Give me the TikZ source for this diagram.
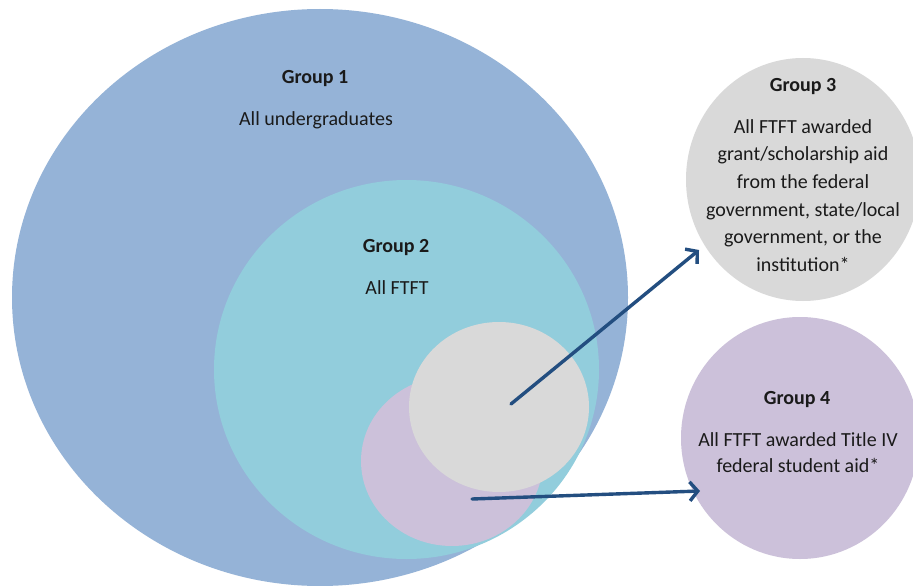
\documentclass[tikz,border=0pt]{standalone}
\usepackage{fontspec}
\setmainfont{Carlito}
\usetikzlibrary{shapes.geometric,arrows.meta}
\definecolor{gone}{HTML}{95B3D7}
\definecolor{gtwo}{HTML}{92CDDC}
\definecolor{ggray}{HTML}{D9D9D9}
\definecolor{gpurple}{HTML}{CCC1DA}
\definecolor{arrowblue}{RGB}{35,78,128}
\definecolor{txt}{HTML}{1A1A1A}
\begin{document}
\begin{tikzpicture}[x=1pt,y=-1pt,
  blob/.style={ellipse, inner sep=0pt, draw=none},
  lbl/.style={anchor=base, inner sep=0pt, font=\fontsize{20}{24}\selectfont, text=txt},
  hd/.style={lbl, font=\fontsize{20}{24}\selectfont\bfseries},
  arr/.style={draw=arrowblue, line width=3.4pt, line cap=round, -{Straight Barb[length=8pt,width=19pt]}}]
\useasboundingbox (0,0) rectangle (913,586);
\clip (0,0) rectangle (913,586);
\fill[white] (0,0) rectangle (913,586);
% circles
\node[blob, fill=gone, minimum width=616pt, minimum height=577pt] (g1) at (320,297.5) {};
\node[blob, fill=gtwo, minimum width=385pt, minimum height=379pt] (g2) at (406.5,369.5) {};
\node[blob, fill=gpurple, minimum width=182pt, minimum height=170pt] (sp) at (452,461) {};
\node[blob, fill=ggray, minimum width=180pt, minimum height=170pt] (sg) at (499,407) {};
\node[blob, fill=ggray, minimum width=234pt, minimum height=243pt] (g3) at (803,179.5) {};
\node[blob, fill=gpurple, minimum width=238pt, minimum height=242pt] (g4) at (800,438) {};
% texts
\node[hd] (t1) at (315,84) {Group 1};
\node[lbl] (t1b) at (316,125) {All undergraduates};
\node[hd] (t2) at (396,252) {Group 2};
\node[lbl] (t2b) at (397,294.5) {All FTFT};
\node[hd] (t3) at (803,91.7) {Group 3};
\node[lbl] (t3a) at (803,133.3) {All FTFT awarded};
\node[lbl] (t3b) at (803,160.9) {grant/scholarship aid};
\node[lbl] (t3c) at (803,188.5) {from the federal};
\node[lbl] (t3d) at (803,216.1) {government, state/local};
\node[lbl] (t3e) at (803,243.7) {government, or the};
\node[lbl] (t3f) at (803,271.3) {institution*};
\node[hd] (t4) at (797,404) {Group 4};
\node[lbl] (t4a) at (798,446.7) {All FTFT awarded Title IV};
\node[lbl] (t4b) at (798,472.7) {federal student aid*};
% arrows
\coordinate (a1s) at (511,404);
\coordinate (a1e) at (699,250);
\coordinate (a2s) at (472,499);
\coordinate (a2e) at (700,491);
\draw[arr] (a1s) -- (a1e);
\draw[arr] (a2s) -- (a2e);
\end{tikzpicture}
\end{document}
